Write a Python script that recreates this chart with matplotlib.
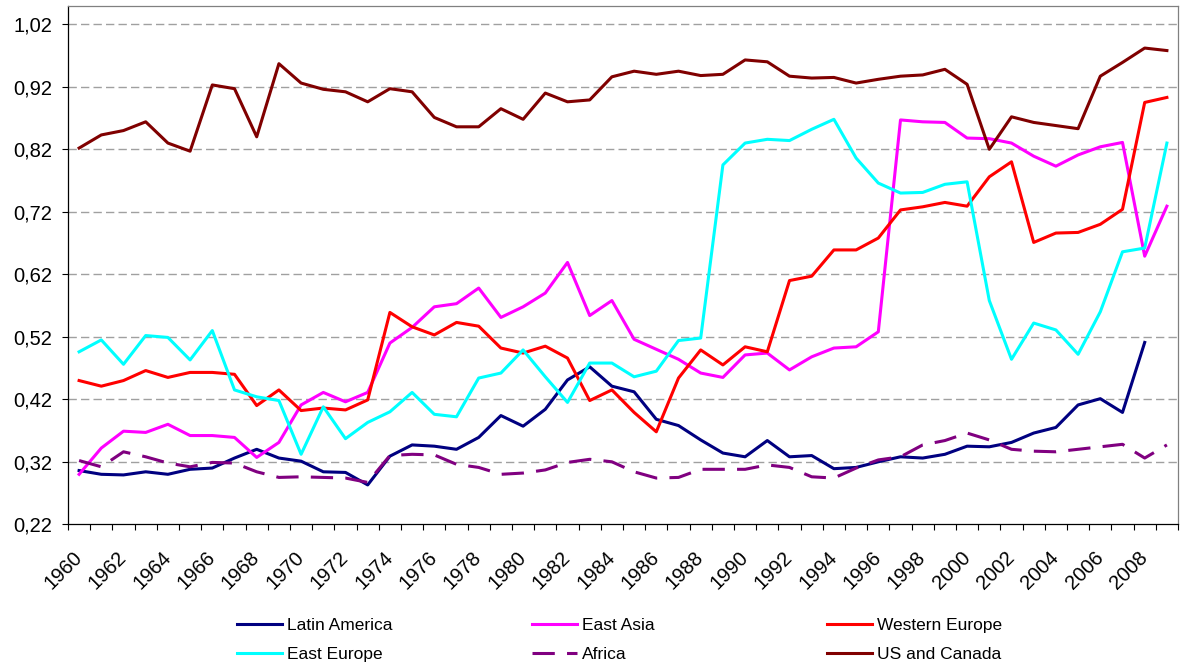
import numpy as np
import matplotlib
matplotlib.use("Agg")
import matplotlib.pyplot as plt

plt.rcParams['font.family'] = ['Liberation Sans', 'DejaVu Sans']

years = np.arange(1960, 2010)

latin_america = [0.306, 0.300, 0.299, 0.304, 0.300, 0.308, 0.310, 0.326, 0.340, 0.326,
                 0.321, 0.304, 0.303, 0.283, 0.329, 0.347, 0.345, 0.340, 0.359, 0.394,
                 0.377, 0.404, 0.451, 0.472, 0.441, 0.432, 0.388, 0.378, 0.355, 0.334,
                 0.328, 0.354, 0.328, 0.330, 0.309, 0.311, 0.320, 0.328, 0.326, 0.332,
                 0.345, 0.344, 0.351, 0.366, 0.375, 0.411, 0.421, 0.399, 0.511, np.nan]
east_asia = [0.300, 0.342, 0.369, 0.367, 0.380, 0.362, 0.362, 0.359, 0.327, 0.351,
             0.411, 0.431, 0.416, 0.431, 0.510, 0.535, 0.568, 0.573, 0.598, 0.551,
             0.568, 0.590, 0.639, 0.554, 0.578, 0.516, 0.500, 0.484, 0.462, 0.455,
             0.491, 0.494, 0.467, 0.488, 0.502, 0.504, 0.528, 0.867, 0.864, 0.863,
             0.838, 0.837, 0.830, 0.809, 0.793, 0.811, 0.824, 0.831, 0.649, 0.729]
western_europe = [0.450, 0.441, 0.450, 0.466, 0.455, 0.463, 0.463, 0.460, 0.410, 0.435,
                  0.402, 0.406, 0.403, 0.419, 0.559, 0.536, 0.523, 0.543, 0.537, 0.502,
                  0.494, 0.505, 0.486, 0.418, 0.435, 0.399, 0.368, 0.454, 0.499, 0.475,
                  0.504, 0.496, 0.610, 0.617, 0.659, 0.659, 0.678, 0.723, 0.728, 0.735,
                  0.729, 0.776, 0.800, 0.671, 0.686, 0.687, 0.700, 0.724, 0.895, 0.903]
east_europe = [0.496, 0.515, 0.476, 0.522, 0.519, 0.483, 0.530, 0.435, 0.424, 0.418,
               0.332, 0.408, 0.357, 0.383, 0.400, 0.431, 0.396, 0.392, 0.454, 0.462,
               0.499, 0.456, 0.415, 0.478, 0.478, 0.456, 0.465, 0.514, 0.518, 0.795,
               0.830, 0.836, 0.834, 0.852, 0.868, 0.806, 0.766, 0.750, 0.751, 0.764,
               0.768, 0.578, 0.484, 0.542, 0.531, 0.492, 0.560, 0.656, 0.662, 0.830]
africa = [0.322, 0.312, 0.336, 0.328, 0.318, 0.312, 0.319, 0.318, 0.304, 0.295,
          0.296, 0.295, 0.294, 0.287, 0.330, 0.332, 0.331, 0.316, 0.311, 0.300,
          0.302, 0.307, 0.319, 0.324, 0.320, 0.304, 0.294, 0.295, 0.308, 0.308,
          0.308, 0.315, 0.311, 0.296, 0.294, 0.310, 0.323, 0.328, 0.347, 0.354,
          0.366, 0.355, 0.340, 0.337, 0.336, 0.340, 0.344, 0.348, 0.326, 0.347]
us_canada = [0.822, 0.843, 0.850, 0.864, 0.830, 0.817, 0.923, 0.917, 0.840, 0.957,
             0.926, 0.916, 0.912, 0.896, 0.917, 0.912, 0.871, 0.856, 0.856, 0.885,
             0.868, 0.910, 0.896, 0.899, 0.936, 0.945, 0.940, 0.945, 0.938, 0.940,
             0.963, 0.960, 0.937, 0.934, 0.935, 0.926, 0.932, 0.937, 0.939, 0.948,
             0.924, 0.820, 0.872, 0.863, 0.858, 0.853, 0.937, 0.959, 0.982, 0.978]

y_ticks = [0.22, 0.32, 0.42, 0.52, 0.62, 0.72, 0.82, 0.92, 1.02]
x_labels = list(range(1960, 2009, 2))

fig = plt.figure(figsize=(11.8, 6.71), dpi=100)
ax = fig.add_axes([68/1180, 146.7/671, 1110/1180, 518.3/671])

lw = 2.2
l1, = ax.plot(years, latin_america, color='#000080', lw=lw, label='Latin America')
l2, = ax.plot(years, east_asia, color='#FF00FF', lw=lw, label='East Asia')
l3, = ax.plot(years, western_europe, color='#FF0000', lw=lw, label='Western Europe')
l4, = ax.plot(years, east_europe, color='#00FFFF', lw=lw, label='East Europe')
l5, = ax.plot(years, africa, color='#800080', lw=lw, dashes=(7.3, 4), label='Africa')
l6, = ax.plot(years, us_canada, color='#800000', lw=lw, label='US and Canada')

ax.set_xlim(1959.5, 2009.5)
ax.set_ylim(0.22, 1.0493)

# y axis with comma decimals and dashed gridlines
ax.set_yticks(y_ticks)
ax.set_yticklabels([f"{v:.2f}".replace('.', ',') for v in y_ticks], fontsize=14.5)
for v in y_ticks[1:]:
    ax.axhline(v, color='#A0A0A0', lw=1.0, dashes=(6, 3), zorder=0)

# x axis: labels every 2 years, tick marks between categories
ax.set_xticks(x_labels)
ax.set_xticklabels([str(y) for y in x_labels], fontsize=14.5, rotation=45,
                   ha='right', va='center', rotation_mode='anchor')
ax.set_xticks(np.arange(1959.5, 2010, 1), minor=True)
ax.tick_params(axis='x', which='major', length=0, pad=22)
ax.tick_params(axis='x', which='minor', length=4.3, width=0.8, direction='out')
ax.tick_params(axis='y', length=4.3, width=0.8, direction='out', pad=7)

ax.spines['left'].set_color('black')
ax.spines['bottom'].set_color('black')
ax.spines['top'].set_color('#808080')
ax.spines['right'].set_color('#808080')
for s in ax.spines.values():
    s.set_linewidth(0.9)

# legend: three columns, two rows
cols = [([l1, l4], 237), ([l2, l5], 532), ([l3, l6], 827)]
for handles, xpix in cols:
    fig.legend(handles=handles, labels=[h.get_label() for h in handles],
               loc='center left', bbox_to_anchor=(xpix/1180, 31/671),
               frameon=False, fontsize=12.5, handlelength=2.6,
               handletextpad=0.3, labelspacing=0.78, borderpad=0,
               borderaxespad=0)

fig.savefig('out.png', dpi=100)
